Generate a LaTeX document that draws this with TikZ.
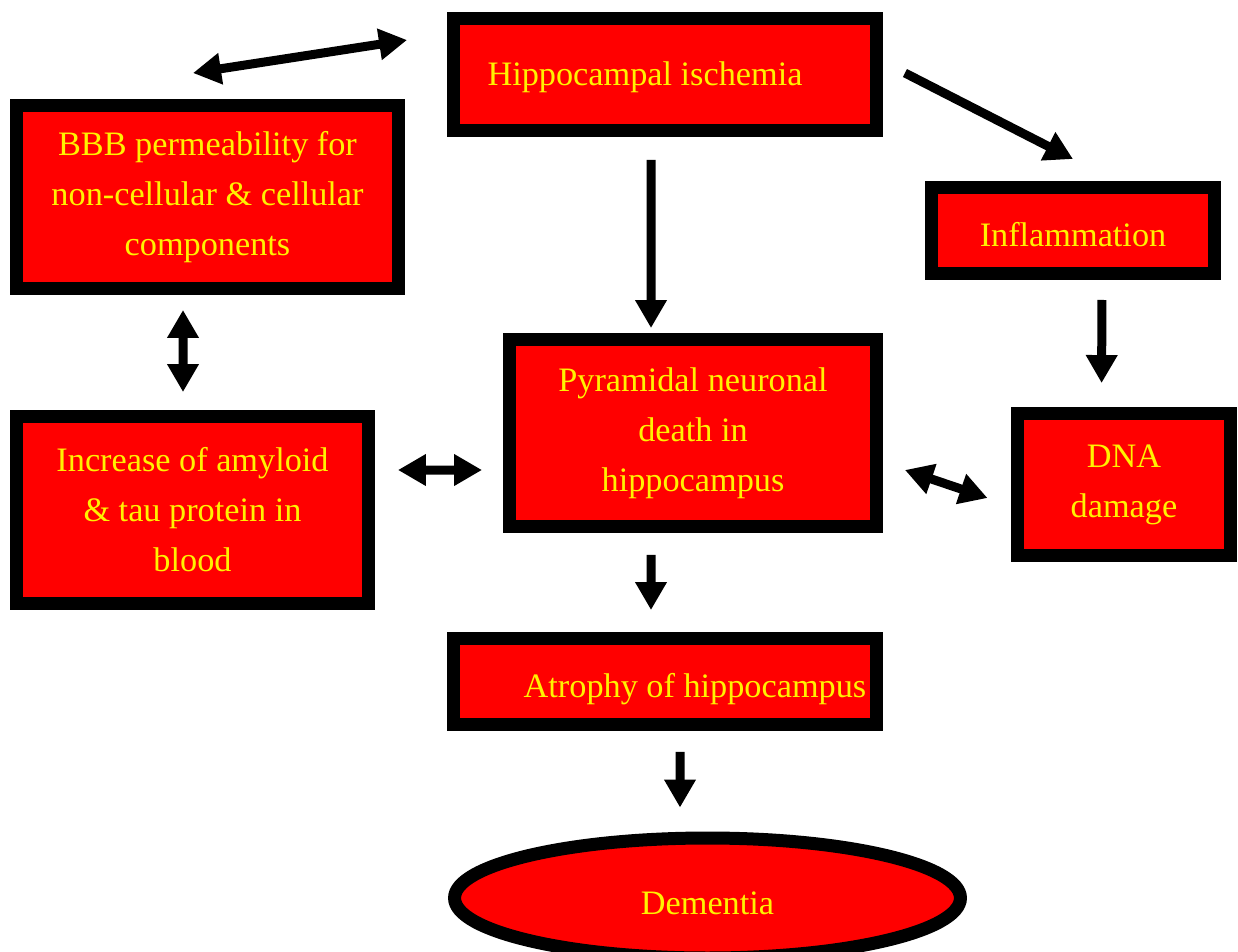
\documentclass[tikz,border=0pt]{standalone}
\usepackage{fontspec}
\setmainfont{Liberation Serif}
\usetikzlibrary{arrows.meta,shapes.geometric}
\tikzset{
	txt/.style={text=yellow, align=center, font=\fontsize{19.5}{28.5}\selectfont},
	box/.style={draw=black, fill=red, line width=0.26cm, txt, execute at begin node={\rule{0pt}{0.66cm}}},
	oval/.style={box, ellipse},
	arr/.style={line width=0.18cm, -{Triangle[width=0.6cm,length=0.56cm]}},
	dbl/.style={line width=0.18cm, {Triangle[width=0.6cm,length=0.56cm]}-{Triangle[width=0.6cm,length=0.56cm]}}
}
\begin{document}
\begin{tikzpicture}[x=0.02cm,y=-0.02cm]
	\useasboundingbox (0,0) rectangle (1238,951);
	\node[box, minimum width=8.46cm, minimum height=2.24cm, label={[txt,xshift=-0.4cm,yshift=-0.05cm]center:Hippocampal ischemia}] (hippo) at (665,74.5) {};
	\node[box, minimum width=7.64cm, minimum height=3.66cm] (bbb) at (207.5,197) {BBB permeability for\\non-cellular \& cellular\\components};
	\node[box, minimum width=5.66cm, minimum height=1.72cm] (infl) at (1073,230.5) {Inflammation};
	\node[box, minimum width=7.34cm, minimum height=3.74cm] (pyr) at (693,433) {Pyramidal neuronal\\death in\\hippocampus};
	\node[box, minimum width=7.04cm, minimum height=3.74cm] (incr) at (192.5,510) {Increase of amyloid\\\& tau protein in\\blood};
	\node[box, minimum width=4.28cm, minimum height=2.84cm] (dna) at (1124,484.5) {DNA\\damage};
	\node[box, minimum width=8.46cm, minimum height=1.72cm, label={[txt,xshift=0.6cm,yshift=-0.155cm]center:Atrophy of hippocampus}] (atro) at (665,681.5) {};
	\node[oval, minimum width=10.12cm, minimum height=2.4cm] (dem) at (707.5,898) {Dementia};

	\draw[dbl] ([xshift=-0.29cm,yshift=0.52cm]bbb.north) -- ([xshift=-0.8cm,yshift=0.69cm]hippo.west);
	\draw[arr] ([xshift=0.44cm,yshift=0.03cm]hippo.east) -- ([yshift=0.44cm]infl.north);
	\draw[arr, shorten <=0.46cm, shorten >=0.1cm] ([xshift=-0.28cm]hippo.south) -- ([xshift=-0.84cm]pyr.north);
	\draw[dbl, shorten <=0.3cm, shorten >=0.36cm] ([xshift=-0.49cm]bbb.south) -- ([xshift=-0.19cm]incr.north);
	\draw[arr, shorten <=0.4cm, shorten >=0.48cm] ([xshift=0.58cm]infl.south) -- ([xshift=-0.45cm]dna.north);
	\draw[dbl, shorten <=0.46cm, shorten >=0.42cm] ([yshift=0.8cm]incr.east) -- ([yshift=-0.74cm]pyr.west);
	\draw[dbl] ([xshift=0.44cm,yshift=-0.74cm]pyr.east) -- ([xshift=-0.46cm,yshift=-0.27cm]dna.west);
	\draw[arr, shorten <=0.44cm, shorten >=0.44cm] ([xshift=-0.84cm]pyr.south) -- ([xshift=-0.28cm]atro.north);
	\draw[arr, shorten <=0.42cm, shorten >=0.48cm] ([xshift=0.3cm]atro.south) -- ([xshift=-0.55cm]dem.north);
\end{tikzpicture}
\end{document}
